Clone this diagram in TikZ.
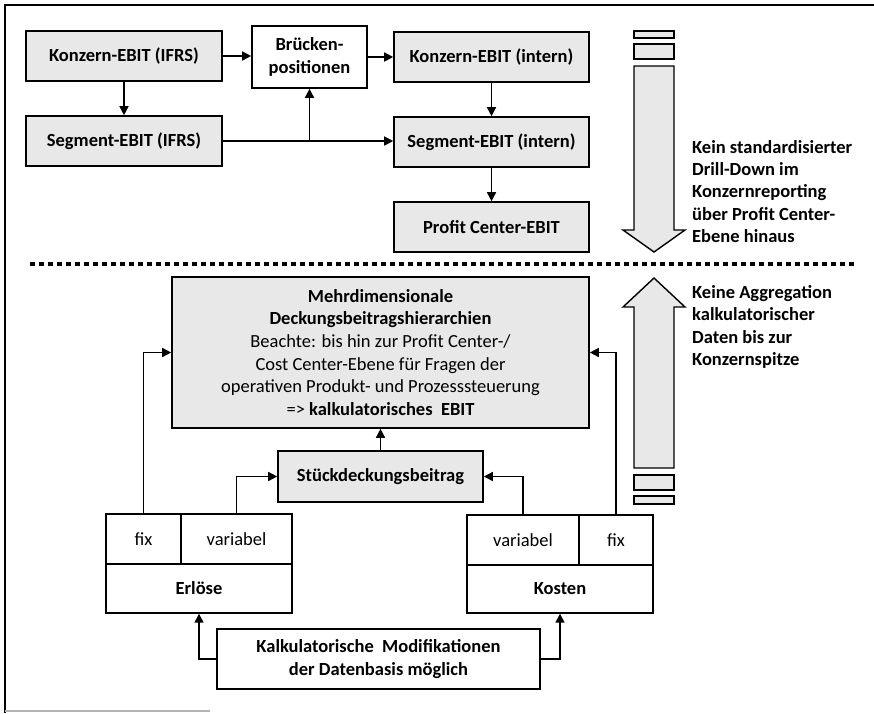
\documentclass[tikz,border=0pt]{standalone}
\usepackage{fontspec}
\setmainfont{Carlito}
\usetikzlibrary{arrows.meta}
\definecolor{boxgray}{gray}{0.91}

\begin{document}
\begin{tikzpicture}[x=1pt,y=-1pt,
        every node/.style={inner sep=0pt,font=\fontsize{18.5}{22.7}\selectfont},
        box/.style={draw,line width=1.6pt,align=center,font=\fontsize{18.5}{22.7}\selectfont\bfseries},
        gbox/.style={box,fill=boxgray},
        cell/.style={draw,line width=1.4pt,minimum height=50pt},
        conn/.style={line width=1.5pt,-{Triangle[length=9pt,width=9pt]}},
        bigarrow/.style={draw,line width=1.4pt,fill=boxgray},
        note/.style={anchor=north west,align=left,font=\fontsize{18.5}{22.4}\selectfont\bfseries}]
        \useasboundingbox (0,0) rectangle (874,713);
        \draw[line width=1.5pt] (5,713) -- (5,5) -- (874,5);
        \draw[line width=1.5pt,gray!60] (5,711) -- (210,711);
        % Konzernreporting
        \node[gbox,minimum width=196pt,minimum height=50pt] (kIFRS) at (124,56) {Konzern-EBIT (IFRS)};
        \node[gbox,minimum width=196pt,minimum height=50pt] (sIFRS) at (124,141) {Segment-EBIT (IFRS)};
        \node[box,minimum width=115pt,minimum height=62pt] (bruecke) at (309.5,57) {Brücken-\\positionen};
        \node[gbox,minimum width=195pt,minimum height=50pt] (kIntern) at (491.5,57) {Konzern-EBIT (intern)};
        \node[gbox,minimum width=195pt,minimum height=50pt] (sIntern) at (491.5,142) {Segment-EBIT (intern)};
        \node[gbox,minimum width=195pt,minimum height=50pt] (pc) at (491.5,227) {Profit Center-EBIT};
        \path (bruecke.south |- sIFRS.east) coordinate (abzw);
        \draw[conn] (kIFRS.east) -- (kIFRS.east -| bruecke.west);
        \draw[conn] (bruecke.east) -- (bruecke.east -| kIntern.west);
        \draw[conn] (kIFRS) -- (sIFRS);
        \draw[conn] (sIFRS.east) -- (sIFRS.east -| sIntern.west);
        \draw[conn] (abzw) -- (bruecke.south);
        \draw[conn] (kIntern) -- (sIntern);
        \draw[conn] (sIntern) -- (pc);
        \draw[bigarrow] (634,31) rectangle (674,38) (634,44) rectangle (674,59);
        \draw[bigarrow] (634,66) -- (674,66) -- (674,230) -- (685,230) -- (654,252)
                -- (623,230) -- (634,230) -- cycle;
        \node[note] (drill) at (692,140) {Kein standardisierter\\Drill-Down im\\Konzernreporting\\über Profit Center-\\Ebene hinaus};
        \draw[line width=4pt,dash pattern=on 5pt off 4pt] (30,264) coordinate (trennA) -- (855,264) coordinate (trennB);
        % Kalkulatorische Sicht
        \node[gbox,font=\fontsize{18.5}{22.7}\selectfont,minimum width=417pt,minimum height=151pt] (mehr) at (380.5,352.5)
                {\textbf{Mehrdimensionale}\\\textbf{Deckungsbeitragshierarchien}\\Beachte: bis hin zur Profit Center-/\\Cost Center-Ebene für Fragen der\\operativen Produkt- und Prozesssteuerung\\=> \textbf{kalkulatorisches\ \ EBIT}};
        \node[gbox,minimum width=205pt,minimum height=51pt] (stueck) at (380.5,476.5) {Stückdeckungsbeitrag};
        \node[cell,minimum width=75pt] (efix) at (143.5,539) {fix};
        \node[cell,minimum width=111pt] (evar) at (236.5,539) {variabel};
        \node[cell,minimum width=186pt,minimum height=49pt,font=\fontsize{18.5}{22.7}\selectfont\bfseries] (erl) at (199,588.5) {Erlöse};
        \node[cell,minimum width=112pt] (kvar) at (523,540) {variabel};
        \node[cell,minimum width=74pt] (kfix) at (616,540) {fix};
        \node[cell,minimum width=186pt,minimum height=48pt,font=\fontsize{18.5}{22.7}\selectfont\bfseries] (kost) at (560,589) {Kosten};
        \node[box,minimum width=323pt,minimum height=60pt] (kalk) at (378.5,659) {Kalkulatorische\ \ Modifikationen\\der Datenbasis möglich};
        \draw[conn] (stueck) -- (mehr);
        \draw[conn] (efix.north) |- (mehr.west);
        \draw[conn] (evar.north) |- (stueck.west);
        \draw[conn] (kvar.north) |- (stueck.east);
        \draw[conn] (kfix.north) |- (mehr.east);
        \draw[conn] (kalk.west) -| (erl.south);
        \draw[conn] (kalk.east) -| (kost.south);
        \draw[bigarrow] (654,278) -- (685,307) -- (674,307) -- (674,468) -- (634,468)
                -- (634,307) -- (623,307) -- cycle;
        \draw[bigarrow] (634,475) rectangle (674,490) (634,496) rectangle (674,504);
        \node[note] (aggr) at (692,285) {Keine Aggregation\\kalkulatorischer\\Daten bis zur\\Konzernspitze};
\end{tikzpicture}
\end{document}
